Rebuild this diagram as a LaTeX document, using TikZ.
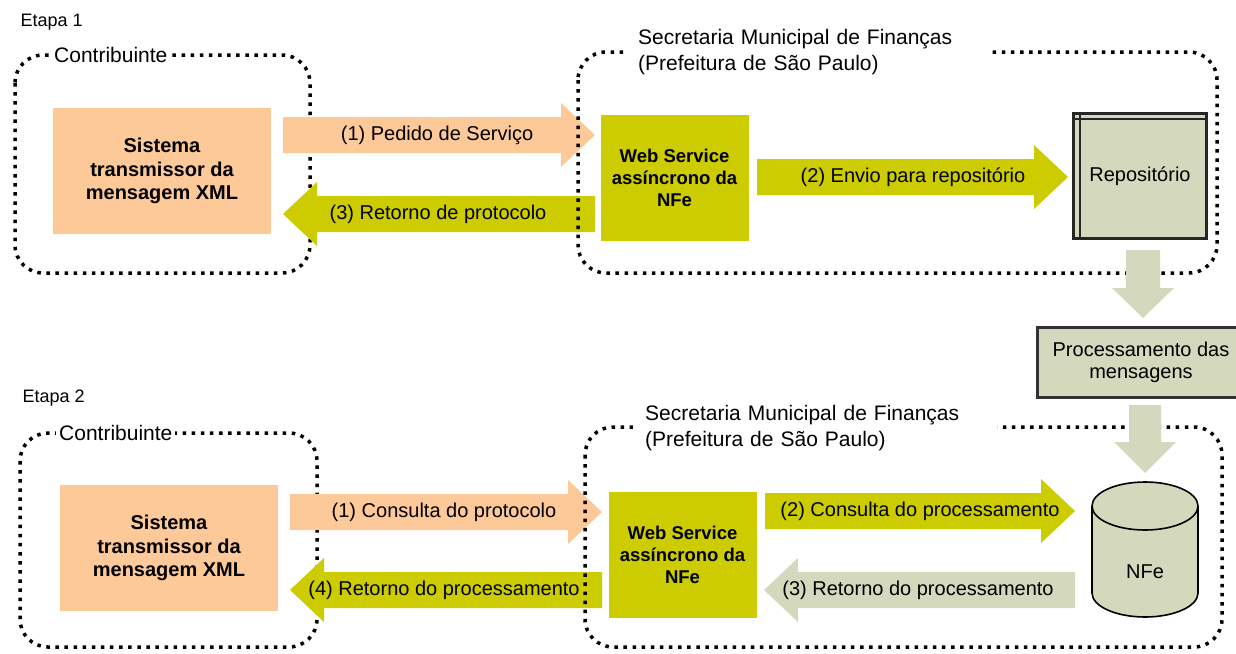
\documentclass[tikz,border=0pt]{standalone}
\usepackage{fontspec}
\setmainfont{Liberation Sans}
\usetikzlibrary{positioning}

\definecolor{laranja}{RGB}{253,201,152}
\definecolor{oliva}{RGB}{204,204,0}
\definecolor{cinza}{RGB}{212,216,188}

% seta larga: cor, x inicio, x ponta, y
\newcommand{\seta}[4]{%
	\pgfmathsetmacro{\xb}{#3>#2 ? #3-34 : #3+34}
	\fill[#1] (#2,#4-18) -- (\xb,#4-18) -- (\xb,#4-32) -- (#3,#4) -- (\xb,#4+32) -- (\xb,#4+18) -- (#2,#4+18) -- cycle;}

\begin{document}
\begin{tikzpicture}[x=1pt,y=-1pt,
	grupo/.style={rounded corners=28pt,line width=3.5pt,dash pattern=on 3.5pt off 5.6pt},
	rotulo/.style={fill=white,inner xsep=3pt,inner ysep=1pt,font=\fontsize{21}{25}\selectfont},
	titulo/.style={fill=white,align=left,text width=340pt,inner xsep=12pt,inner ysep=2pt,font=\fontsize{21}{26}\selectfont},
	sistema/.style={fill=laranja,minimum width=218pt,minimum height=126pt,align=center,font=\bfseries\fontsize{20}{23.5}\selectfont},
	ws/.style={fill=oliva,minimum width=148pt,minimum height=126pt,align=center,font=\bfseries\fontsize{18.5}{22}\selectfont},
	txt/.style={font=\fontsize{20}{22}\selectfont,align=center}]
\useasboundingbox (0,0) rectangle (1236,653);

% Etapa 1
\draw[grupo] (15,55) rectangle (310,273);
\seta{laranja}{283}{595}{135}
\seta{oliva}{595}{283}{214}
\seta{oliva}{757}{1068}{177}
\draw[grupo] (578,52) rectangle (1217,273);
\node[sistema] (sis1) at (162,171) {Sistema\\transmissor da\\mensagem XML};
\node[ws] (ws1) at (674.5,178) {Web Service\\assíncrono da\\NFe};
\node[fill=cinza,draw=black!85,line width=3pt,minimum width=133pt,minimum height=125pt,txt] (repo) at (1140,176) {Repositório};
\draw[black!85,line width=1.6pt] ([yshift=-7pt]repo.north west) -- ([yshift=-7pt]repo.north east);
\draw[black!85,line width=1.6pt] ([xshift=8pt]repo.north west) -- ([xshift=8pt]repo.south west);
\node[txt] (l11) at (437,135) {(1) Pedido de Serviço};
\node[txt] (l13) at (438,214) {(3) Retorno de protocolo};
\node[txt] (l12) at (913,177) {(2) Envio para repositório};
\node[anchor=west,font=\fontsize{18}{22}\selectfont] (etapa1) at (17,22) {Etapa 1};
\node[rotulo,anchor=west] (contrib1) at (51,55) {Contribuinte};
\node[titulo,anchor=west] (sf1) at (626,52) {Secretaria Municipal de Finanças\\(Prefeitura de São Paulo)};

% processamento
\fill[cinza] (1126,250) -- (1160,250) -- (1160,288) -- (1174,288) -- (1143,318) -- (1112,288) -- (1126,288) -- cycle;
\node[fill=cinza,draw=black!80,line width=3pt,minimum width=208pt,minimum height=70pt,txt] (proc) at (1141,362.5) {Processamento das\\mensagens};

% Etapa 2
\draw[grupo] (20,433) rectangle (317,647);
\seta{laranja}{290}{602}{512}
\seta{oliva}{602}{290}{590}
\seta{oliva}{765}{1075}{511}
\seta{cinza}{1075}{764}{590}
\draw[grupo] (585,427) rectangle (1222,647);
\fill[cinza] (1129,405) -- (1161,405) -- (1161,442) -- (1176,442) -- (1145,473) -- (1114,442) -- (1129,442) -- cycle;
\node[sistema] (sis2) at (169,548) {Sistema\\transmissor da\\mensagem XML};
\node[ws] (ws2) at (682.5,554.5) {Web Service\\assíncrono da\\NFe};
\fill[cinza,draw=black,line width=1.6pt] (1092,506) -- (1092,593) arc (180:0:53 and 24) -- (1198,506) arc (0:-180:53 and 24) -- cycle;
\draw[line width=1.6pt] (1092,506) arc (180:0:53 and 24);
\node[txt] (nfe) at (1145,572) {NFe};
\node[txt] (l21) at (444,512) {(1) Consulta do protocolo};
\node[txt] (l24) at (444,590) {(4) Retorno do processamento};
\node[txt] (l22) at (920,511) {(2) Consulta do processamento};
\node[txt] (l23) at (918,590) {(3) Retorno do processamento};
\node[anchor=west,font=\fontsize{18}{22}\selectfont] (etapa2) at (19,398) {Etapa 2};
\node[rotulo,anchor=west] (contrib2) at (56,433) {Contribuinte};
\node[titulo,anchor=west] (sf2) at (633,428) {Secretaria Municipal de Finanças\\(Prefeitura de São Paulo)};
\end{tikzpicture}
\end{document}
